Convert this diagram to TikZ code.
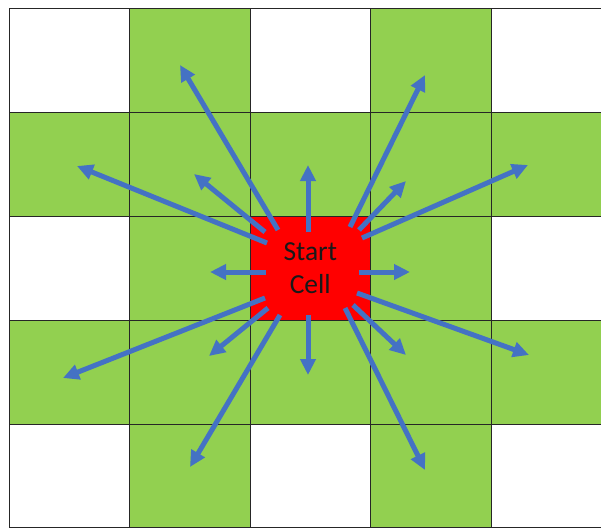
\documentclass[tikz,border=0pt]{standalone}
\usepackage{fontspec}
\setmainfont{Carlito}
\usetikzlibrary{arrows.meta}
\definecolor{cgreen}{HTML}{92D050}
\definecolor{cred}{HTML}{FF0000}
\definecolor{cblue}{HTML}{4472C4}
\begin{document}
\begin{tikzpicture}[x=1pt,y=-1pt,
  cell/.style={draw=black!85,line width=1pt,minimum width=120.5pt,minimum height=103.75pt,inner sep=0pt,outer sep=0pt},
  mv/.style={draw=cblue,line width=5pt,-{Triangle[length=16pt,width=15pt]}}]
\useasboundingbox (0,0) rectangle (601,527);
\clip (0,0) rectangle (601,527);
\fill[white] (0,0) rectangle (601,527);
% grid of cells: pattern W G W G W / G G G G G
\foreach \r in {0,...,4}{
  \foreach \c in {0,...,4}{
    \pgfmathtruncatemacro{\iswhite}{(mod(\r,2)==0 && mod(\c,2)==0) ? 1 : 0}
    \ifnum\iswhite=1
      \node[cell,fill=white] (c\r\c) at ({9+120.5*\c+60.25},{9+103.75*\r+51.875}) {};
    \else
      \node[cell,fill=cgreen] (c\r\c) at ({9+120.5*\c+60.25},{9+103.75*\r+51.875}) {};
    \fi
  }
}
\node[cell,fill=cred,font=\fontsize{27.5}{33}\selectfont,text=black!90,align=center] (start) at (310.25,268.375) {Start\\Cell};
% start and end points of the moves
\coordinate (s1) at (278,230);  \coordinate (t1) at (180,65);
\coordinate (s2) at (265,232);  \coordinate (t2) at (194,174);
\coordinate (s3) at (308,232);  \coordinate (t3) at (308,165);
\coordinate (s4) at (350,227);  \coordinate (t4) at (425,75);
\coordinate (s5) at (359,230);  \coordinate (t5) at (406,181);
\coordinate (s6) at (362,238);  \coordinate (t6) at (528,165);
\coordinate (s7) at (267,243);  \coordinate (t7) at (77,166);
\coordinate (s8) at (266,272);  \coordinate (t8) at (210,272);
\coordinate (s9) at (359,272);  \coordinate (t9) at (410,272);
\coordinate (s10) at (265,298); \coordinate (t10) at (63,378);
\coordinate (s11) at (268,308); \coordinate (t11) at (209,356);
\coordinate (s12) at (280,315); \coordinate (t12) at (190,467);
\coordinate (s13) at (308,315); \coordinate (t13) at (308,375);
\coordinate (s14) at (357,293); \coordinate (t14) at (529,355);
\coordinate (s15) at (353,305); \coordinate (t15) at (406,355);
\coordinate (s16) at (345,308); \coordinate (t16) at (425,470);
\foreach \i in {1,...,16}{\draw[mv] (s\i) -- (t\i);}
\end{tikzpicture}
\end{document}
